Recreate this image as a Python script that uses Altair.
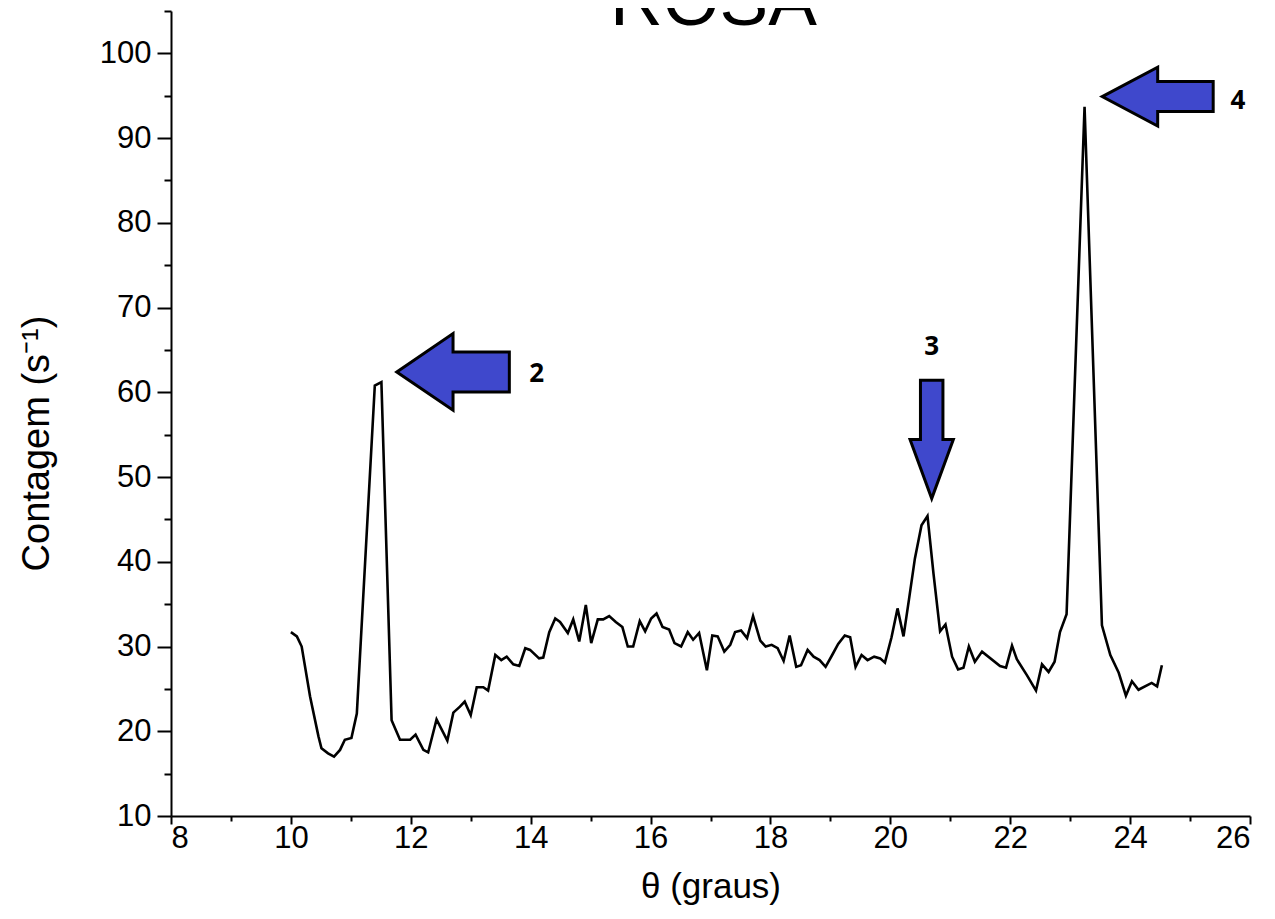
import altair as alt
import pandas as pd

# ---- diffractogram (theta in graus, counts in s^-1) ----
theta = [10.00, 10.10, 10.18, 10.32, 10.46, 10.51, 10.62, 10.72, 10.82, 10.90,
         11.01, 11.10, 11.40, 11.51, 11.68, 11.82, 11.99, 12.08, 12.21, 12.29,
         12.43, 12.61, 12.71, 12.82, 12.90, 13.00, 13.10, 13.21, 13.29, 13.41,
         13.51, 13.60, 13.71, 13.81, 13.91, 13.99, 14.14, 14.21, 14.31, 14.41,
         14.49, 14.62, 14.71, 14.81, 14.92, 15.01, 15.12, 15.21, 15.31, 15.42,
         15.53, 15.62, 15.71, 15.82, 15.91, 16.01, 16.10, 16.20, 16.31, 16.40,
         16.51, 16.62, 16.71, 16.81, 16.94, 17.03, 17.12, 17.23, 17.33, 17.41,
         17.51, 17.61, 17.71, 17.83, 17.92, 18.02, 18.12, 18.22, 18.32, 18.43,
         18.51, 18.62, 18.72, 18.82, 18.92, 19.03, 19.13, 19.24, 19.33, 19.42,
         19.52, 19.62, 19.73, 19.83, 19.91, 20.02, 20.12, 20.22, 20.31, 20.41,
         20.52, 20.62, 20.72, 20.83, 20.92, 21.03, 21.13, 21.22, 21.31, 21.41,
         21.53, 21.83, 21.93, 22.03, 22.11, 22.28, 22.43, 22.53, 22.64, 22.74,
         22.83, 22.94, 23.24, 23.53, 23.67, 23.81, 23.93, 24.03, 24.14, 24.36,
         24.45, 24.53]
counts = [31.7, 31.2, 30.0, 24.1, 19.4, 18.0, 17.4, 17.0, 17.8, 19.0,
          19.2, 22.1, 60.8, 61.2, 21.3, 19.0, 19.0, 19.6, 17.8, 17.5,
          21.4, 18.9, 22.2, 22.9, 23.5, 21.9, 25.2, 25.2, 24.8, 29.0,
          28.4, 28.8, 27.9, 27.7, 29.8, 29.6, 28.6, 28.7, 31.7, 33.3,
          32.9, 31.6, 33.2, 30.6, 34.9, 30.4, 33.2, 33.2, 33.6, 32.9,
          32.3, 30.0, 30.0, 33.0, 31.8, 33.3, 33.9, 32.3, 32.0, 30.4,
          30.0, 31.7, 30.8, 31.6, 27.2, 31.3, 31.2, 29.4, 30.2, 31.7,
          31.9, 31.0, 33.6, 30.7, 30.0, 30.2, 29.8, 28.3, 31.3, 27.6,
          27.8, 29.6, 28.8, 28.4, 27.6, 29.0, 30.3, 31.3, 31.1, 27.6,
          29.0, 28.4, 28.8, 28.6, 28.1, 31.1, 34.5, 31.2, 35.5, 40.4,
          44.3, 45.4, 38.6, 31.8, 32.6, 28.8, 27.3, 27.5, 30.0, 28.2,
          29.4, 27.7, 27.5, 30.1, 28.5, 26.6, 24.8, 27.9, 27.0, 28.2,
          31.7, 33.8, 93.7, 32.5, 29.0, 26.9, 24.2, 25.9, 24.9, 25.7,
          25.3, 27.8]

# ---- block arrows: centre (data units), outline path, overall size ----
arrow_x = [12.705, 20.69, 24.46]
arrow_y = [62.41, 54.44, 94.9]
arrow_paths = [
    "M -1 0 L 0 -0.68 L 0 -0.355 L 1 -0.355 L 1 0.355 L 0 0.355 L 0 0.68 Z",
    "M 0 1 L -0.366 0 L -0.19 0 L -0.19 -1 L 0.19 -1 L 0.19 0 L 0.366 0 Z",
    "M -1 0 L 0 -0.53 L 0 -0.27 L 1 -0.27 L 1 0.27 L 0 0.27 L 0 0.53 Z",
]
arrow_span = [112.6, 118.3, 111.0]

peak_labels = ["2", "3", "4"]
label_x = [14.1, 20.69, 25.8]
label_y = [62.2, 65.3, 94.4]

W, H = 1079, 805
FONT = "Liberation Sans"
BLUE = "#3F48CC"

xscale = alt.Scale(domain=[8, 26], nice=False, zero=False)
yscale = alt.Scale(domain=[10, 105], nice=False, zero=False)

major_x = "datum.value % 2 == 0"
major_y = "datum.value % 10 == 0"

x_axis = alt.Axis(
    title="θ (graus)", values=list(range(8, 27)), format="d",
    labelExpr=f"{major_x} ? datum.label : ''",
    tickSize={"condition": {"test": major_x, "value": 8}, "value": 5},
    labelPadding=-1, labelFontSize=31, labelFont=FONT, labelColor="black",
    titleFontSize=35, titleFont=FONT, titleFontWeight="normal", titleColor="black",
    titleY=70, titleBaseline="middle",
    grid=False, domainColor="black", domainWidth=2, tickColor="black", tickWidth=2,
)
y_axis = alt.Axis(
    title="Contagem (s⁻¹)", values=list(range(10, 106, 5)), format="d",
    labelExpr=f"{major_y} ? datum.label : ''",
    tickSize={"condition": {"test": major_y, "value": 14}, "value": 7},
    labelPadding=6, labelFontSize=31, labelFont=FONT, labelColor="black",
    titleFontSize=38, titleFont=FONT, titleFontWeight="normal", titleColor="black",
    titleX=-134, titleY=432, titleBaseline="middle", titleAngle=-90,
    grid=False, domainColor="black", domainWidth=2, tickColor="black", tickWidth=2,
)

line_df = pd.DataFrame({"x": theta, "y": counts})
line = alt.Chart(line_df).mark_line(color="black", strokeWidth=2.6).encode(
    x=alt.X("x:Q", scale=xscale, axis=x_axis),
    y=alt.Y("y:Q", scale=yscale, axis=y_axis),
)

arrows = []
for ax_, ay_, path, span in zip(arrow_x, arrow_y, arrow_paths, arrow_span):
    adf = pd.DataFrame({"x": [ax_], "y": [ay_]})
    arrows.append(
        alt.Chart(adf).mark_point(
            shape=path, size=span ** 2, filled=True, fill=BLUE, fillOpacity=1,
            stroke="black", strokeWidth=3, strokeJoin="miter", opacity=1,
        ).encode(x="x:Q", y="y:Q")
    )

lab_df = pd.DataFrame({"x": label_x, "y": label_y, "t": peak_labels})
labels = alt.Chart(lab_df).mark_text(
    font="Open Sans", fontWeight="bold", fontSize=26, color="black", baseline="middle"
).encode(x="x:Q", y="y:Q", text="t:N")

title_df = pd.DataFrame({"t": ["ROSA"]})
title = alt.Chart(title_df).mark_text(
    font=FONT, fontSize=73, color="black", baseline="alphabetic", align="center"
).encode(x=alt.value(W / 2 + 3), y=alt.value(14), text="t:N")

chart = alt.layer(line, *arrows, labels, title).properties(
    width=W, height=H,
    autosize=alt.AutoSizeParams(type="none"),
    padding={"left": 163, "top": 3, "right": 17, "bottom": 95},
).configure_view(stroke=None)

chart.save("out.html", embed_options={"renderer": "svg", "actions": False})
